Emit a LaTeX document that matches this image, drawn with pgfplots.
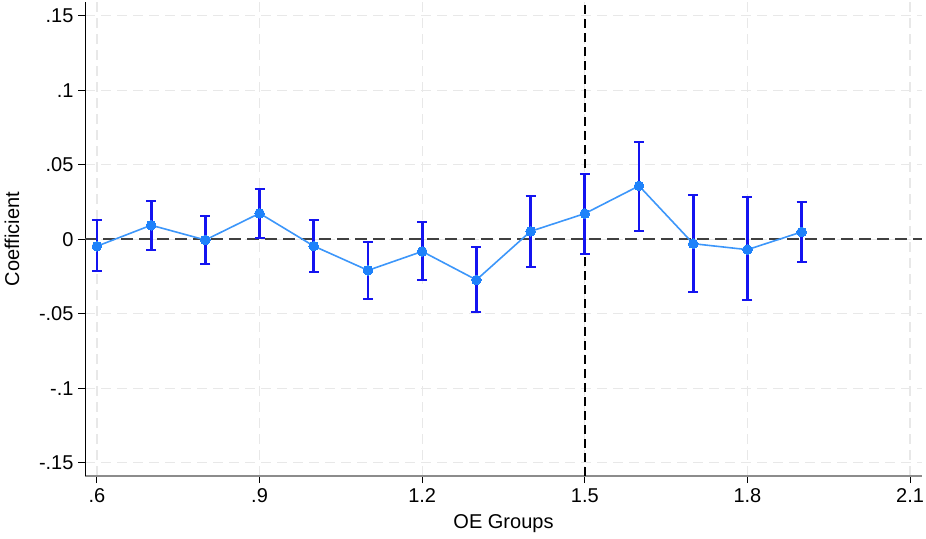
\documentclass[border=0pt]{standalone}
\usepackage{pgfplots}
\pgfplotsset{compat=1.18}
\usepackage{fontspec}
\setmainfont{Liberation Sans}
\definecolor{ebar}{RGB}{20,20,240}
\definecolor{mk}{RGB}{30,130,250}
\definecolor{ln}{RGB}{60,150,250}
\definecolor{gridc}{RGB}{232,232,232}
\begin{document}
\begin{tikzpicture}[x=1pt,y=1pt]
\useasboundingbox (0,0) rectangle (926,538);
\begin{axis}[
  at={(85pt,62pt)}, anchor=south west,
  scale only axis, width=837pt, height=474pt,
  xmin=0.578, xmax=2.122, ymin=-0.1589, ymax=0.1592,
  axis x line*=bottom, axis y line*=left,
  x axis line style={draw=gray!90, line width=2pt, -},
  y axis line style={draw=black, line width=1pt, -},
  xtick={0.6,0.9,1.2,1.5,1.8,2.1},
  xticklabels={.6,.9,1.2,1.5,1.8,2.1},
  ytick={-0.15,-0.1,-0.05,0,0.05,0.1,0.15},
  yticklabels={-.15,-.1,-.05,0,.05,.1,.15},
  tick align=outside,
  major tick length=7pt,
  tick style={black, line width=1pt},
  ticklabel style={font=\fontsize{20}{22}\selectfont},
  label style={font=\fontsize{20}{22}\selectfont},
  xticklabel style={yshift=-2pt},
  yticklabel style={xshift=-1pt},
  xlabel={OE Groups}, ylabel={Coefficient},
  xlabel style={at={(axis description cs:0.5,-0.1013)}, anchor=center},
  ylabel style={at={(axis description cs:-0.0872,0.5)}, anchor=center, rotate=0},
  grid=major,
  major grid style={draw=gridc, line width=1.2pt, dash pattern=on 10pt off 6pt},
  clip=false,
]
\addplot[draw=black!75, line width=1.8pt, dash pattern=on 12pt off 6pt, forget plot] coordinates {(0.578,0) (2.122,0)};
\addplot[draw=black, line width=1.4pt, dash pattern=on 9pt off 5pt, forget plot] coordinates {(1.5,-0.1589) (1.5,0.1592)};
\addplot[draw=none, mark=none,
  error bars/.cd, y dir=both, y explicit,
  error bar style={ebar, line width=2.8pt},
  error mark options={ebar, rotate=90, mark size=5pt, line width=2pt}]
table[x=x, y=y, y error plus=ep, y error minus=em] {
x    y       ep      em
0.6  -0.0047 0.0177  0.0166
0.7   0.0094 0.0163  0.0166
0.8  -0.0005 0.0161  0.0163
0.9   0.0174 0.0166  0.0163
1.0  -0.0046 0.0176  0.0172
1.1  -0.0209 0.0190  0.0190
1.2  -0.0082 0.0198  0.0189
1.3  -0.0273 0.0221  0.0215
1.4   0.0053 0.0237  0.0237
1.5   0.0172 0.0266  0.0271
1.6   0.0358 0.0292  0.0301
1.7  -0.0030 0.0330  0.0324
1.8  -0.0070 0.0352  0.0340
1.9   0.0049 0.0201  0.0202
};
\addplot[ln, line width=1.6pt, mark=*, mark size=4.8pt, mark options={fill=mk, draw=mk, line width=0pt}]
table[x=x, y=y] {
x    y
0.6  -0.0047
0.7   0.0094
0.8  -0.0005
0.9   0.0174
1.0  -0.0046
1.1  -0.0209
1.2  -0.0082
1.3  -0.0273
1.4   0.0053
1.5   0.0172
1.6   0.0358
1.7  -0.0030
1.8  -0.0070
1.9   0.0049
};
\end{axis}
\end{tikzpicture}
\end{document}
